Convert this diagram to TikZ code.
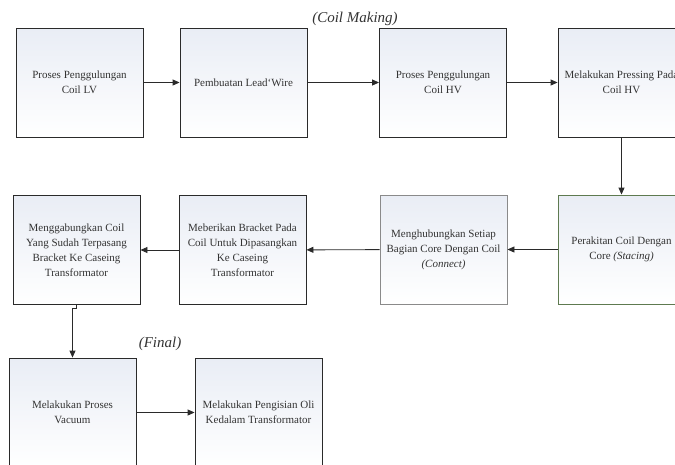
\documentclass[tikz,border=0pt]{standalone}
\usepackage{fontspec}
\setmainfont{Liberation Serif}
\usetikzlibrary{arrows.meta}
\definecolor{txt}{HTML}{333333}
\definecolor{edge}{HTML}{2A2A2A}
\definecolor{greyedge}{HTML}{8A8A8A}
\definecolor{greenedge}{HTML}{5E7A50}
\definecolor{boxtop}{HTML}{E9EDF5}
\tikzset{
  procbox/.style={draw=edge, line width=0.9pt, minimum width=127pt, minimum height=109pt,
    inner sep=0pt, align=center, text=txt, top color=boxtop, bottom color=white,
    font=\fontsize{11}{15}\selectfont},
  flow/.style={draw=edge, line width=0.9pt, -{Triangle[length=7pt,width=6pt]}},
  stage/.style={text=txt, font=\fontsize{15}{18}\selectfont\itshape}
}
\begin{document}
\begin{tikzpicture}[x=1pt,y=-1pt]
\useasboundingbox (0,0) rectangle (675,464);
\fill[white] (0,0) rectangle (675,464);
\clip (0,0) rectangle (675,464);

\node[stage] (t1) at (355,19) {(Coil Making)};
\node[stage] (t2) at (160,344) {(Final)};

\node[procbox] (b1) at (79.5,82.5) {Proses Penggulungan\\Coil LV};
\node[procbox] (b2) at (243.5,82.5) {Pembuatan Lead`Wire};
\node[procbox] (b3) at (443,82.5) {Proses Penggulungan\\Coil HV};
\node[procbox] (b4) at (621.5,82.5) {Melakukan Pressing Pada\\Coil HV};

\node[procbox] (b5) at (76.5,250) {Menggabungkan Coil\\Yang Sudah Terpasang\\Bracket Ke Caseing\\Transformator};
\node[procbox] (b6) at (242.5,250) {Meberikan Bracket Pada\\Coil Untuk Dipasangkan\\Ke Caseing\\Transformator};
\node[procbox, draw=greyedge] (b7) at (443.5,249.5) {Menghubungkan Setiap\\Bagian Core Dengan Coil\\\textit{(Connect)}};
\node[procbox, draw=greenedge] (b8) at (621.5,249.5) {Perakitan Coil Dengan\\Core \textit{(Stacing)}};

\node[procbox] (b9) at (72.5,412.5) {Melakukan Proses\\Vacuum};
\node[procbox] (b10) at (258.5,412.5) {Melakukan Pengisian Oli\\Kedalam Transformator};

\draw[flow] (b1) -- (b2);
\draw[flow] (b2) -- (b3);
\draw[flow] (b3) -- (b4);
\draw[flow] (b4) -- (b8);
\draw[flow] (b8) -- (b7);
\draw[flow] (b7) -- (b6);
\draw[flow] (b6) -- (b5);
\draw[flow] (b5.south) -- ++(0,3) -| (b9.north);
\draw[flow] (b9) -- (b10);
\end{tikzpicture}
\end{document}
